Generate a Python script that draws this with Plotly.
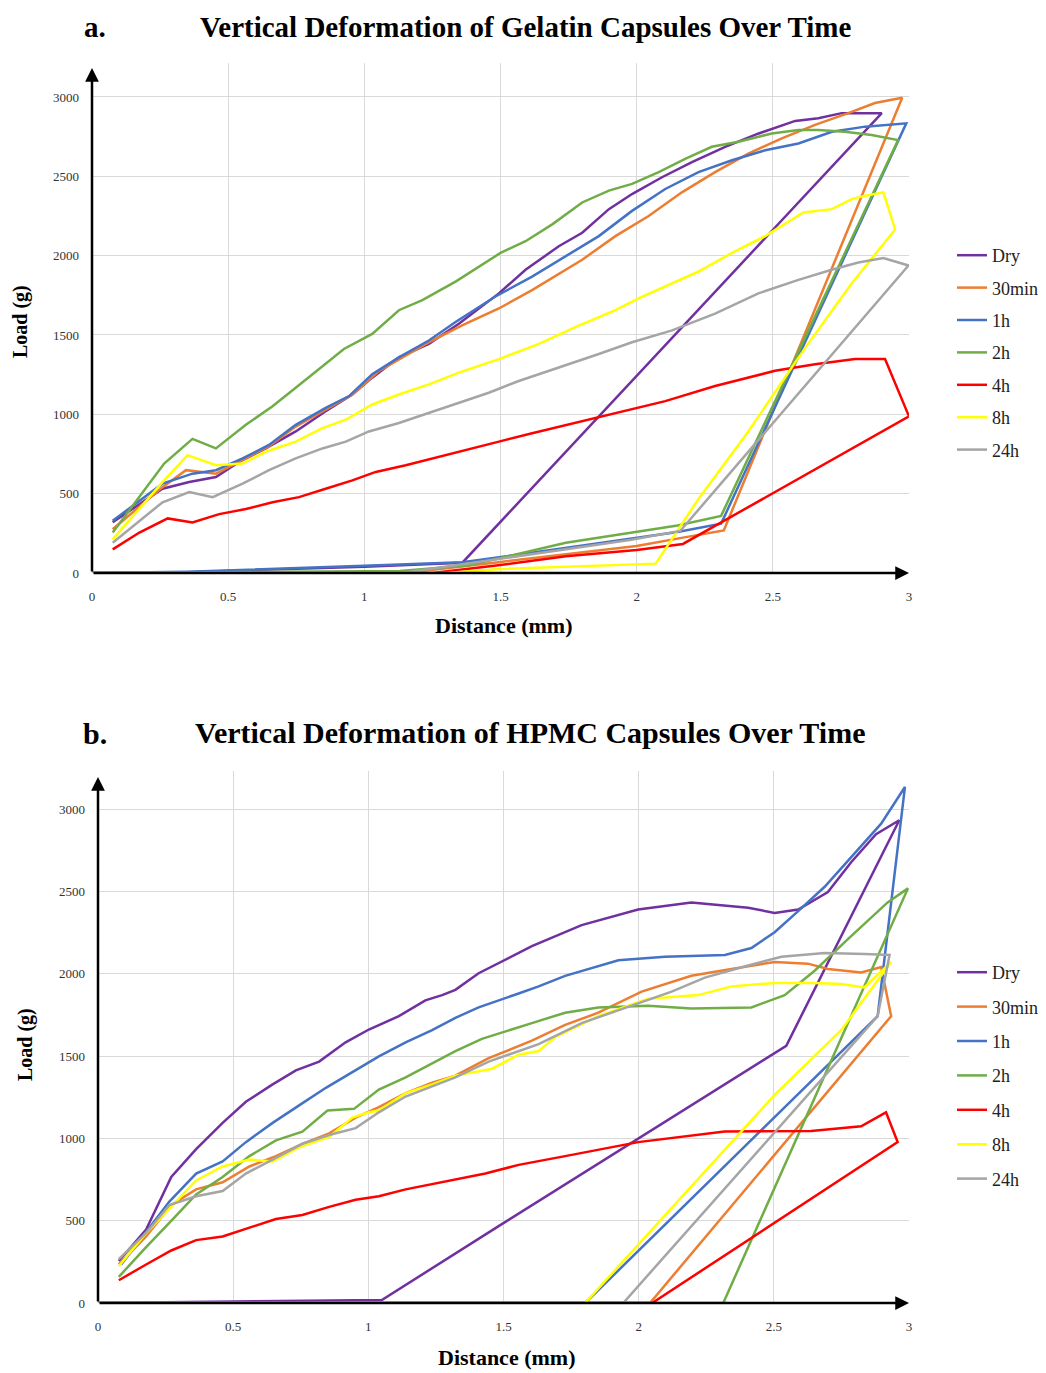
import plotly.graph_objects as go

# ---------------- data ----------------
series_names = ["Dry", "30min", "1h", "2h", "4h", "8h", "24h"]
x_tick_vals = [0, 0.5, 1, 1.5, 2, 2.5, 3]
x_tick_text = ["0", "0.5", "1", "1.5", "2", "2.5", "3"]
y_tick_vals = [0, 500, 1000, 1500, 2000, 2500, 3000]
y_tick_text = ["0", "500", "1000", "1500", "2000", "2500", "3000"]

# Panel a: gelatin capsules
gel_dry_x = [0, 0.35, 1.0, 1.36, 2.9, 2.753, 2.667, 2.582, 2.448, 2.325, 2.203, 2.093, 1.983, 1.898, 1.80, 1.714, 1.592, 1.494, 1.347, 1.237, 1.127, 1.029, 0.956, 0.858, 0.748, 0.638, 0.540, 0.455, 0.357, 0.259, 0.076]
gel_dry_y = [0, 5, 40, 65, 2898, 2898, 2866, 2849, 2770, 2686, 2590, 2494, 2388, 2293, 2144, 2059, 1911, 1762, 1571, 1444, 1359, 1231, 1125, 1019, 892, 785, 700, 605, 573, 531, 320]

gel_30min_x = [0, 1.15, 1.5, 2.0, 2.17, 2.32, 2.975, 2.875, 2.777, 2.655, 2.533, 2.41, 2.288, 2.166, 2.044, 1.922, 1.80, 1.616, 1.494, 1.359, 1.249, 1.127, 1.054, 0.956, 0.858, 0.748, 0.65, 0.553, 0.455, 0.345, 0.259, 0.076]
gel_30min_y = [0, 0, 70, 170, 223, 268, 2995, 2962, 2898, 2824, 2739, 2643, 2526, 2399, 2250, 2123, 1974, 1783, 1667, 1560, 1465, 1348, 1274, 1125, 1030, 923, 800, 715, 626, 648, 541, 276]

gel_1h_x = [0, 0.35, 1.0, 1.36, 1.75, 2.15, 2.31, 2.99, 2.839, 2.717, 2.594, 2.472, 2.350, 2.227, 2.105, 1.983, 1.861, 1.738, 1.616, 1.48, 1.335, 1.237, 1.127, 1.029, 0.944, 0.858, 0.748, 0.650, 0.553, 0.455, 0.369, 0.259, 0.076]
gel_1h_y = [0, 8, 45, 68, 160, 258, 311, 2834, 2813, 2781, 2707, 2664, 2601, 2526, 2420, 2282, 2123, 1996, 1868, 1741, 1582, 1465, 1359, 1253, 1115, 1040, 934, 807, 722, 648, 626, 563, 329]

gel_2h_x = [0, 1.13, 1.38, 1.74, 2.15, 2.31, 2.96, 2.863, 2.765, 2.667, 2.594, 2.496, 2.374, 2.276, 2.18, 2.081, 1.983, 1.898, 1.80, 1.69, 1.592, 1.5, 1.335, 1.213, 1.127, 1.029, 0.925, 0.834, 0.748, 0.663, 0.565, 0.455, 0.369, 0.265, 0.076]
gel_2h_y = [0, 12, 47, 190, 300, 360, 2728, 2760, 2781, 2792, 2792, 2770, 2718, 2686, 2611, 2526, 2452, 2410, 2335, 2197, 2091, 2017, 1836, 1720, 1656, 1507, 1412, 1284, 1168, 1051, 934, 785, 845, 690, 255]

gel_4h_x = [0, 1.25, 1.5, 1.74, 2.0, 2.17, 3.0, 2.912, 2.802, 2.655, 2.508, 2.288, 2.105, 1.898, 1.738, 1.616, 1.494, 1.347, 1.249, 1.152, 1.042, 0.956, 0.858, 0.760, 0.663, 0.565, 0.467, 0.369, 0.278, 0.174, 0.076]
gel_4h_y = [0, 0, 50, 105, 145, 183, 987, 1348, 1348, 1316, 1274, 1178, 1083, 998, 934, 881, 828, 764, 722, 679, 637, 584, 531, 478, 446, 403, 371, 318, 344, 255, 149]

gel_8h_x = [0, 1.3, 1.5, 2.07, 2.227, 2.41, 2.62, 2.79, 2.949, 2.906, 2.839, 2.79, 2.716, 2.612, 2.472, 2.350, 2.227, 2.105, 2.007, 1.922, 1.775, 1.641, 1.494, 1.347, 1.237, 1.127, 1.029, 0.932, 0.846, 0.748, 0.638, 0.553, 0.455, 0.351, 0.259, 0.076]
gel_8h_y = [0, 0, 25, 59, 467, 892, 1422, 1826, 2165, 2399, 2378, 2356, 2293, 2272, 2123, 2017, 1900, 1805, 1730, 1656, 1550, 1444, 1348, 1263, 1189, 1125, 1062, 966, 913, 828, 764, 690, 679, 743, 573, 212]

gel_24h_x = [0, 1.15, 1.5, 1.98, 2.16, 2.998, 2.906, 2.814, 2.716, 2.594, 2.447, 2.288, 2.13, 1.983, 1.861, 1.714, 1.567, 1.457, 1.347, 1.237, 1.127, 1.017, 0.932, 0.846, 0.748, 0.650, 0.553, 0.443, 0.357, 0.259, 0.076]
gel_24h_y = [0, 3, 90, 210, 265, 1938, 1985, 1957, 1911, 1847, 1762, 1635, 1529, 1454, 1380, 1295, 1210, 1136, 1072, 1008, 945, 892, 828, 785, 722, 648, 563, 478, 510, 446, 191]

# Panel b: HPMC capsules
hpmc_dry_x = [0, 0.25, 0.6, 1.05, 1.482, 2.546, 2.964, 2.878, 2.786, 2.7, 2.59, 2.503, 2.405, 2.195, 1.998, 1.789, 1.605, 1.556, 1.408, 1.322, 1.273, 1.211, 1.113, 1.002, 0.916, 0.818, 0.732, 0.646, 0.547, 0.461, 0.363, 0.271, 0.178, 0.077]
hpmc_dry_y = [0, 5, 12, 18, 467, 1562, 2932, 2847, 2677, 2496, 2390, 2369, 2401, 2433, 2390, 2295, 2167, 2125, 2003, 1902, 1870, 1838, 1742, 1661, 1583, 1466, 1413, 1328, 1222, 1094, 935, 765, 446, 255]

hpmc_30min_x = [0, 2.042, 2.934, 2.897, 2.823, 2.7, 2.626, 2.503, 2.343, 2.195, 2.011, 1.851, 1.728, 1.605, 1.445, 1.322, 1.236, 1.138, 1.039, 0.953, 0.855, 0.756, 0.658, 0.56, 0.461, 0.363, 0.271, 0.178, 0.077]
hpmc_30min_y = [0, 0, 1742, 2040, 2008, 2029, 2061, 2071, 2029, 1987, 1891, 1763, 1689, 1593, 1487, 1381, 1338, 1275, 1190, 1126, 1030, 967, 892, 829, 733, 690, 595, 404, 234]

hpmc_1h_x = [0, 1.802, 2.884, 2.985, 2.897, 2.786, 2.688, 2.59, 2.503, 2.417, 2.319, 2.097, 1.925, 1.728, 1.630, 1.556, 1.408, 1.322, 1.236, 1.138, 1.039, 0.941, 0.843, 0.744, 0.646, 0.547, 0.461, 0.363, 0.264, 0.086]
hpmc_1h_y = [0, 0, 1742, 3134, 2911, 2709, 2528, 2380, 2252, 2156, 2114, 2103, 2082, 1987, 1923, 1880, 1795, 1732, 1657, 1583, 1498, 1402, 1307, 1200, 1094, 977, 860, 786, 616, 234]

hpmc_2h_x = [0, 2.313, 2.996, 2.921, 2.774, 2.651, 2.54, 2.417, 2.195, 2.035, 1.851, 1.728, 1.605, 1.42, 1.322, 1.236, 1.138, 1.039, 0.947, 0.849, 0.756, 0.658, 0.56, 0.461, 0.363, 0.277, 0.178, 0.077]
hpmc_2h_y = [0, 0, 2518, 2433, 2210, 2018, 1870, 1795, 1789, 1806, 1795, 1763, 1700, 1604, 1530, 1455, 1370, 1296, 1179, 1169, 1041, 988, 892, 765, 659, 510, 340, 159]

hpmc_4h_x = [0, 2.05, 2.958, 2.915, 2.823, 2.638, 2.318, 1.998, 1.728, 1.556, 1.433, 1.335, 1.236, 1.138, 1.039, 0.953, 0.855, 0.756, 0.658, 0.56, 0.461, 0.363, 0.271, 0.178, 0.077]
hpmc_4h_y = [0, 0, 977, 1158, 1073, 1045, 1041, 977, 892, 839, 786, 754, 722, 690, 648, 627, 584, 535, 510, 457, 404, 382, 319, 234, 138]

hpmc_8h_x = [0, 1.802, 2.503, 2.749, 2.934, 2.835, 2.749, 2.651, 2.503, 2.343, 2.22, 2.035, 1.851, 1.691, 1.63, 1.556, 1.458, 1.322, 1.236, 1.138, 1.039, 1.002, 0.941, 0.855, 0.744, 0.646, 0.56, 0.461, 0.363, 0.277, 0.178, 0.077]
hpmc_8h_y = [0, 0, 1264, 1657, 2071, 1916, 1938, 1944, 1944, 1923, 1870, 1848, 1742, 1615, 1530, 1508, 1423, 1381, 1328, 1275, 1169, 1158, 1126, 1009, 945, 860, 871, 829, 744, 595, 425, 223]

hpmc_24h_x = [0, 1.943, 2.884, 2.928, 2.836, 2.688, 2.528, 2.405, 2.245, 2.122, 1.974, 1.789, 1.63, 1.556, 1.445, 1.322, 1.236, 1.138, 1.039, 0.953, 0.855, 0.756, 0.658, 0.547, 0.461, 0.363, 0.264, 0.178, 0.077]
hpmc_24h_y = [0, 0, 1742, 2114, 2120, 2125, 2103, 2050, 1976, 1891, 1806, 1700, 1572, 1530, 1466, 1370, 1317, 1254, 1158, 1062, 1020, 967, 882, 786, 680, 648, 595, 425, 266]

# ---------------- style ----------------
colors = ["#7030A0", "#ED7D31", "#4472C4", "#70AD47", "#FF0000", "#FFFF00", "#A5A5A5"]
SERIF = "Liberation Serif, Times New Roman, serif"

gel_series = [(gel_dry_x, gel_dry_y), (gel_30min_x, gel_30min_y), (gel_1h_x, gel_1h_y),
              (gel_2h_x, gel_2h_y), (gel_4h_x, gel_4h_y), (gel_8h_x, gel_8h_y), (gel_24h_x, gel_24h_y)]
hpmc_series = [(hpmc_dry_x, hpmc_dry_y), (hpmc_30min_x, hpmc_30min_y), (hpmc_1h_x, hpmc_1h_y),
               (hpmc_2h_x, hpmc_2h_y), (hpmc_4h_x, hpmc_4h_y), (hpmc_8h_x, hpmc_8h_y), (hpmc_24h_x, hpmc_24h_y)]

fig = go.Figure()
for i, (xs, ys) in enumerate(gel_series):
    fig.add_trace(go.Scatter(x=xs, y=ys, mode="lines", name=series_names[i],
                             line=dict(color=colors[i], width=2.5),
                             xaxis="x", yaxis="y", legend="legend",
                             legendgroup="a" + series_names[i], cliponaxis=False))
for i, (xs, ys) in enumerate(hpmc_series):
    fig.add_trace(go.Scatter(x=xs, y=ys, mode="lines", name=series_names[i],
                             line=dict(color=colors[i], width=2.5),
                             xaxis="x2", yaxis="y2", legend="legend2",
                             legendgroup="b" + series_names[i], cliponaxis=False))

# page body margin of the browser (8 px) is compensated so that reference pixel
# positions can be used directly
OFF = 8
W, H = 1046 - OFF, 1373 - OFF
def px_x(p):
    return (p - OFF) / W
def px_y(p):
    return 1 - (p - OFF) / H

YMAX_A = 3214
YMAX_B = 3231

axis_common = dict(showgrid=True, gridcolor="#d9d9d9", gridwidth=1, zeroline=False,
                   showline=False, ticks="", tickfont=dict(family=SERIF, size=13, color="#333333"))

fig.update_layout(
    width=W, height=H,
    margin=dict(l=0, r=0, t=0, b=0, autoexpand=False),
    paper_bgcolor="white", plot_bgcolor="white",
    xaxis=dict(domain=[px_x(92), px_x(909)], range=[0, 3], tickvals=x_tick_vals, ticktext=x_tick_text,
               anchor="y", ticklabelstandoff=14, **axis_common),
    yaxis=dict(domain=[px_y(573), px_y(63)], range=[0, YMAX_A], tickvals=y_tick_vals, ticktext=y_tick_text,
               anchor="x", ticklabelstandoff=12, **axis_common),
    xaxis2=dict(domain=[px_x(98), px_x(909)], range=[0, 3], tickvals=x_tick_vals, ticktext=x_tick_text,
                anchor="y2", ticklabelstandoff=14, **axis_common),
    yaxis2=dict(domain=[px_y(1303), px_y(771)], range=[0, YMAX_B], tickvals=y_tick_vals, ticktext=y_tick_text,
                anchor="x2", ticklabelstandoff=12, **axis_common),
    legend=dict(x=px_x(952), y=px_y(237), xanchor="left", yanchor="top",
                font=dict(family=SERIF, size=18, color="#222222"), tracegroupgap=6,
                bgcolor="rgba(0,0,0,0)", itemwidth=30),
    legend2=dict(x=px_x(952), y=px_y(954), xanchor="left", yanchor="top",
                 font=dict(family=SERIF, size=18, color="#222222"), tracegroupgap=8,
                 bgcolor="rgba(0,0,0,0)", itemwidth=30),
    showlegend=True,
)

annotations = []
# axis arrows
for xr, yr, ytip in (("x", "y", 3183), ("x2", "y2", 3195)):
    annotations.append(dict(x=0, y=ytip, ax=0, ay=0, xref=xr, yref=yr, axref=xr, ayref=yr,
                            showarrow=True, arrowhead=2, arrowsize=1.1, arrowwidth=2.5,
                            arrowcolor="black", text=""))
    annotations.append(dict(x=3.0, y=0, ax=0, ay=0, xref=xr, yref=yr, axref=xr, ayref=yr,
                            showarrow=True, arrowhead=2, arrowsize=1.1, arrowwidth=2.5,
                            arrowcolor="black", text=""))

def txt(text, x, y, font, angle=0):
    return dict(text=text, x=px_x(x), y=px_y(y), xref="paper", yref="paper", showarrow=False,
                xanchor="center", yanchor="middle", textangle=angle, font=font)

title_font_a = dict(family=SERIF, size=29, color="black")
title_font_b = dict(family=SERIF, size=30, color="black")
label_font_y = dict(family=SERIF, size=20, color="black")
label_font_x = dict(family=SERIF, size=22, color="black")
annotations += [
    txt("<b>a.</b>", 95, 27, title_font_a),
    txt("<b>Vertical Deformation of Gelatin Capsules Over Time</b>", 525, 27, title_font_a),
    txt("<b>b.</b>", 95, 733, title_font_b),
    txt("<b>Vertical Deformation of HPMC Capsules Over Time</b>", 530, 732, title_font_b),
    txt("<b>Load (g)</b>", 21, 322, label_font_y, -90),
    txt("<b>Distance (mm)</b>", 503, 626, label_font_x),
    txt("<b>Load (g)</b>", 25, 1045, label_font_y, -90),
    txt("<b>Distance (mm)</b>", 506, 1357, label_font_x),
]
fig.update_layout(annotations=annotations)

fig.write_html("out.html")
